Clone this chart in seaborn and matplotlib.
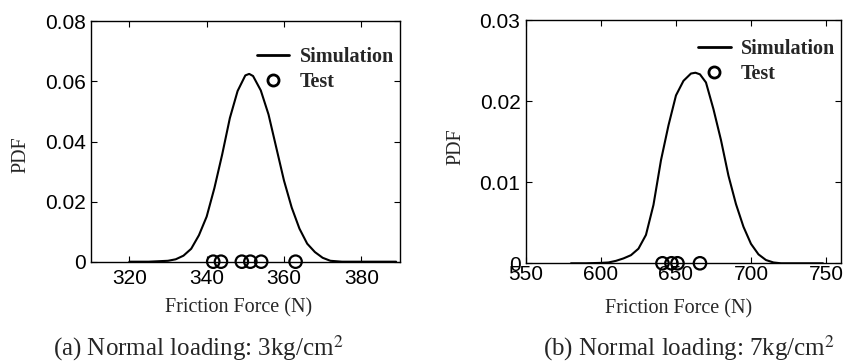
import numpy as np
import pandas as pd
import matplotlib
matplotlib.use("Agg")
import matplotlib.pyplot as plt
import seaborn as sns
from matplotlib.lines import Line2D

# ---- data ----
sim_a_x = [320, 325, 330, 332, 334, 336, 338, 340, 342, 344, 346, 348, 350, 351,
           352, 354, 356, 358, 360, 362, 364, 366, 368, 370, 372, 375, 380, 385, 389]
sim_a_y = [0.0, 0.0, 0.0003, 0.0008, 0.002, 0.0043, 0.0088, 0.015, 0.0245, 0.0356,
           0.0478, 0.0568, 0.062, 0.0625, 0.0618, 0.057, 0.049, 0.038, 0.027, 0.018,
           0.011, 0.006, 0.0032, 0.0013, 0.0003, 0.0, 0.0, 0.0, 0.0]
test_a_x = [341.7, 343.7, 349.1, 351.3, 354.1, 363.0]

sim_b_x = [580, 590, 600, 605, 610, 615, 620, 625, 630, 635, 640, 645, 650, 655,
           660, 663, 666, 670, 675, 680, 685, 690, 695, 700, 705, 710, 715, 720,
           730, 740, 748]
sim_b_y = [0.0, 0.0, 0.00005, 0.0001, 0.0003, 0.0006, 0.001, 0.0018, 0.0035, 0.0072,
           0.0127, 0.017, 0.0207, 0.0225, 0.0234, 0.0235, 0.0233, 0.0223, 0.019,
           0.0152, 0.0108, 0.0073, 0.0045, 0.0024, 0.0011, 0.0004, 0.0001, 0.0,
           0.0, 0.0, 0.0]
test_b_x = [641, 647, 651, 666]

xticks_a = [320, 340, 360, 380]
yticks_a = [0, 0.02, 0.04, 0.06, 0.08]
ylabels_a = ["0", "0.02", "0.04", "0.06", "0.08"]
xticks_b = [550, 600, 650, 700, 750]
yticks_b = [0, 0.01, 0.02, 0.03]
ylabels_b = ["0", "0.01", "0.02", "0.03"]

sns.set_style("ticks")
plt.rcParams["font.family"] = ["Liberation Sans", "DejaVu Sans"]

fig = plt.figure(figsize=(8.53, 3.62), dpi=100)
ax1 = fig.add_axes([0.1063, 0.2771, 0.3626, 0.664])
ax2 = fig.add_axes([0.6166, 0.2727, 0.3693, 0.672])

serif = ["Liberation Serif", "DejaVu Serif"]

def draw(ax, sx, sy, tx, xlim, ylim, xt, yt, yl, xpad, ypad, ylab_pos, xlab_pos, leg_anchor):
    df = pd.DataFrame({"x": sx, "y": sy})
    sns.lineplot(data=df, x="x", y="y", ax=ax, color="black", linewidth=1.5,
                 sort=False, estimator=None, legend=False)
    dt = pd.DataFrame({"x": tx, "y": [0.0] * len(tx)})
    sns.scatterplot(data=dt, x="x", y="y", ax=ax, marker="o", s=80,
                    facecolor="none", edgecolor="black", linewidth=1.6,
                    zorder=5, clip_on=False, legend=False)
    ax.set_xlim(*xlim)
    ax.set_ylim(*ylim)
    ax.set_xticks(xt)
    ax.set_yticks(yt)
    ax.set_yticklabels(yl)
    ax.tick_params(direction="in", top=True, right=True, length=4, width=0.8,
                   labelsize=15, colors="black")
    ax.tick_params(axis="x", pad=xpad)
    ax.tick_params(axis="y", pad=ypad)
    for sp in ax.spines.values():
        sp.set_visible(True)
        sp.set_linewidth(1.0)
        sp.set_color("black")
    ax.set_xlabel("Friction Force (N)", fontsize=14.5, family=serif)
    ax.set_ylabel("PDF", fontsize=14.5, family=serif)
    ax.xaxis.set_label_coords(*xlab_pos)
    ax.yaxis.set_label_coords(*ylab_pos)
    handles = [Line2D([0], [0], color="black", lw=2.0),
               Line2D([0], [0], color="black", marker="o", ls="none", ms=8,
                      mfc="none", mew=2.0)]
    ax.legend(handles, ["Simulation", "Test"], loc="upper right", frameon=False,
              prop={"family": serif, "weight": "bold", "size": 14.5},
              handlelength=1.6, handletextpad=0.5, labelspacing=0.25,
              borderaxespad=0.2, bbox_to_anchor=leg_anchor)

draw(ax1, sim_a_x, sim_a_y, test_a_x, (310, 390), (0, 0.08), xticks_a, yticks_a,
     ylabels_a, 5, 3.5, (-0.196, 0.444), (0.477, -0.152), (1.019, 0.9425))
draw(ax2, sim_b_x, sim_b_y, test_b_x, (550, 760), (0, 0.03), xticks_b, yticks_b,
     ylabels_b, 1.5, 4, (-0.191, 0.478), (0.484, -0.147), (1.019, 0.971))

fig.text(0.233, 0.039, "(a) Normal loading: 3kg/cm$^2$", fontsize=18, family=serif,
         ha="center", va="center", math_fontfamily="stix")
fig.text(0.808, 0.039, "(b) Normal loading: 7kg/cm$^2$", fontsize=18, family=serif,
         ha="center", va="center", math_fontfamily="stix")

fig.savefig("out.png", dpi=100)
